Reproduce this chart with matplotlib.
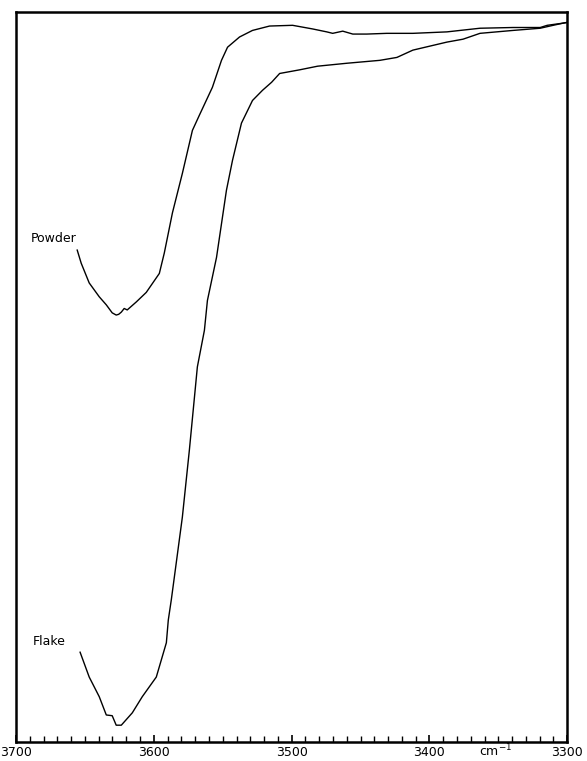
import numpy as np
import matplotlib
matplotlib.use('Agg')
import matplotlib.pyplot as plt
from matplotlib.ticker import MultipleLocator

# IR spectra, wavenumber (cm-1) vs transmittance (arbitrary %)
powder_wn = [3655.6, 3652.7, 3646.9, 3639.6, 3634.5, 3630.2, 3627.3, 3625.5,
             3623.6, 3621.5, 3619.3, 3612.7, 3605.5, 3596.0, 3592.4, 3586.5,
             3579.3, 3572.0, 3566.9, 3557.5, 3550.9, 3546.5, 3537.8, 3528.4,
             3516.0, 3499.3, 3484.7, 3474.5, 3470.2, 3462.9, 3455.6, 3445.5,
             3430.9, 3412.0, 3387.3, 3363.3, 3339.3, 3319.6, 3314.5, 3302.9,
             3300.0]
powder_t = [67.4, 65.6, 62.9, 61.0, 59.9, 58.8, 58.5, 58.6,
            58.9, 59.4, 59.2, 60.3, 61.6, 64.2, 67.0, 72.5,
            77.9, 83.8, 85.9, 89.7, 93.4, 95.2, 96.6, 97.5,
            98.1, 98.2, 97.7, 97.3, 97.1, 97.4, 97.0, 97.0,
            97.1, 97.1, 97.3, 97.8, 97.9, 97.9, 98.2, 98.5,
            98.6]

flake_wn = [3653.5, 3646.9, 3639.6, 3634.5, 3630.2, 3627.3, 3623.6, 3615.6,
            3608.4, 3598.2, 3590.9, 3589.5, 3587.3, 3585.1, 3579.3, 3574.2,
            3568.4, 3563.3, 3561.1, 3554.5, 3547.3, 3542.9, 3536.4, 3528.4,
            3521.1, 3514.5, 3508.7, 3494.2, 3481.1, 3460.0, 3436.0, 3423.6,
            3412.0, 3387.3, 3375.6, 3363.3, 3339.3, 3319.6, 3310.2, 3302.9,
            3300.0]
flake_t = [12.3, 8.9, 6.2, 3.7, 3.6, 2.3, 2.3, 4.0,
           6.2, 8.9, 13.6, 16.7, 19.5, 22.6, 30.8, 40.0,
           51.4, 56.4, 60.5, 66.4, 75.6, 79.7, 84.8, 87.9,
           89.3, 90.4, 91.6, 92.1, 92.6, 93.0, 93.4, 93.8,
           94.8, 95.9, 96.3, 97.1, 97.5, 97.8, 98.2, 98.5,
           98.6]

tick_vals = [3700, 3600, 3500, 3400, 3300]

fig = plt.figure(figsize=(5.87, 7.61), dpi=100)
ax = fig.add_axes([0.0273, 0.025, 0.939, 0.959])

ax.plot(powder_wn, powder_t, color='black', lw=1.0)
ax.plot(flake_wn, flake_t, color='black', lw=1.0)

ax.set_xlim(3700, 3300)
ax.set_ylim(0, 100)

ax.set_xticks(tick_vals)
ax.set_xticklabels([str(v) for v in tick_vals], fontsize=9)
ax.xaxis.set_minor_locator(MultipleLocator(10))
ax.tick_params(axis='x', which='major', direction='in', length=5, width=1.2, pad=3)
ax.tick_params(axis='x', which='minor', direction='in', length=4, width=1.0)
ax.set_yticks([])

for s in ax.spines.values():
    s.set_linewidth(1.8)

ax.text(3689, 69.0, 'Powder', fontsize=9, va='center', ha='left')
ax.text(3688, 13.8, 'Flake', fontsize=9, va='center', ha='left')
fig.text(496 / 587, 2 / 761, r'cm$^{-1}$', fontsize=9, ha='center', va='bottom')

fig.savefig('out.png', dpi=100)
